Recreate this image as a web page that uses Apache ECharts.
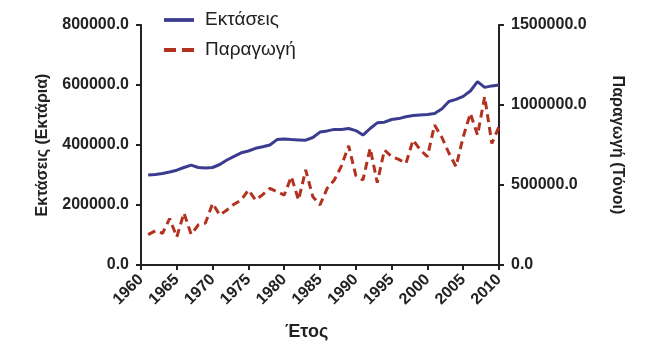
<!DOCTYPE html>
<html>
<head>
<meta charset="utf-8">
<script src="https://cdn.jsdelivr.net/npm/echarts@6/dist/echarts.min.js"></script>
<style>
  html, body { margin: 0; padding: 0; background: #fff; }
  #chart { width: 645px; height: 347px; }
</style>
</head>
<body>
<div id="chart"></div>
<script>
// Years 1961–2010
const years = [
  1961, 1962, 1963, 1964, 1965, 1966, 1967, 1968, 1969, 1970,
  1971, 1972, 1973, 1974, 1975, 1976, 1977, 1978, 1979, 1980,
  1981, 1982, 1983, 1984, 1985, 1986, 1987, 1988, 1989, 1990,
  1991, 1992, 1993, 1994, 1995, 1996, 1997, 1998, 1999, 2000,
  2001, 2002, 2003, 2004, 2005, 2006, 2007, 2008, 2009, 2010
];

// Cultivated area (hectares), left axis
const areaValues = [
  300000, 302000, 305000, 310000, 316000, 325000, 333000, 325000, 323000, 325000,
  335000, 350000, 362000, 374000, 380000, 389000, 394000, 400000, 418000, 420000,
  418000, 417000, 416000, 425000, 443000, 447000, 452000, 452000, 455000, 448000,
  433000, 455000, 474000, 476000, 485000, 488000, 494000, 498000, 500000, 502000,
  505000, 520000, 545000, 552000, 562000, 580000, 611000, 592000, 597000, 600000
];

// Production (tonnes), right axis
const productionValues = [
  190000, 214000, 198000, 290000, 175000, 325000, 192000, 250000, 262000, 385000,
  312000, 344000, 380000, 406000, 469000, 406000, 440000, 479000, 458000, 437000,
  552000, 406000, 594000, 427000, 375000, 479000, 531000, 620000, 745000, 560000,
  531000, 730000, 515000, 719000, 677000, 660000, 635000, 781000, 720000, 677000,
  875000, 800000, 700000, 615000, 800000, 948000, 812000, 1052000, 760000, 865000
];

const leftTicks = { min: 0, max: 800000, interval: 200000 };
const rightTicks = { min: 0, max: 1500000, interval: 500000 };
const xTicks = { min: 1960, max: 2010, interval: 5 };

const seriesNames = ['Εκτάσεις', 'Παραγωγή'];
const axisTitles = { left: 'Εκτάσεις (Εκτάρια)', right: 'Παραγωγή (Τόνοι)', bottom: 'Έτος' };

const FONT = '"Liberation Sans", Arial, sans-serif';
const INK = '#222';
const BLUE = '#3b3b8f';
const RED = '#b3321f';

const pairs = (vals) => years.map((y, i) => [y, vals[i]]);

const axisLine = { show: true, lineStyle: { color: INK, width: 2 } };
const axisTick = { show: true, length: 5, lineStyle: { color: INK, width: 2 } };
const tickFont = { fontFamily: FONT, fontWeight: 'bold', fontSize: 16, color: INK };

// Legend keys: a solid stroke and a dashed stroke
const solidKey = 'path://M0,0H32V4H0Z';
const dashedKey = 'path://M0,0H12V4H0Z M18,0H30V4H18Z';

const chart = echarts.init(document.getElementById('chart'), null, { renderer: 'canvas' });

chart.setOption({
  animation: false,
  backgroundColor: '#fff',
  grid: { left: 141, right: 146, top: 25, bottom: 82, containLabel: false },
  legend: {
    orient: 'vertical',
    left: 159,
    top: 4,
    itemGap: 8,
    itemWidth: 30,
    itemHeight: 4,
    data: [
      { name: seriesNames[0], icon: solidKey },
      { name: seriesNames[1], icon: dashedKey }
    ],
    textStyle: { fontFamily: FONT, fontSize: 19, color: INK, padding: [0, 0, 0, 6], lineHeight: 22 }
  },
  xAxis: {
    type: 'value',
    min: xTicks.min,
    max: xTicks.max,
    interval: xTicks.interval,
    axisLine: axisLine,
    axisTick: axisTick,
    splitLine: { show: false },
    axisLabel: Object.assign({ rotate: 45, margin: 12, formatter: (v) => String(v) }, tickFont)
  },
  yAxis: [
    {
      type: 'value',
      position: 'left',
      min: leftTicks.min,
      max: leftTicks.max,
      interval: leftTicks.interval,
      name: axisTitles.left,
      nameLocation: 'middle',
      nameGap: 90,
      nameTextStyle: { fontFamily: FONT, fontWeight: 'bold', fontSize: 16, color: INK },
      axisLine: axisLine,
      axisTick: axisTick,
      splitLine: { show: false },
      axisLabel: Object.assign({ margin: 12, formatter: (v) => v.toFixed(1) }, tickFont)
    },
    {
      type: 'value',
      position: 'right',
      min: rightTicks.min,
      max: rightTicks.max,
      interval: rightTicks.interval,
      name: axisTitles.right,
      nameLocation: 'middle',
      nameGap: 110,
      nameRotate: -90,
      nameTextStyle: { fontFamily: FONT, fontWeight: 'bold', fontSize: 16, color: INK },
      axisLine: axisLine,
      axisTick: axisTick,
      splitLine: { show: false },
      axisLabel: Object.assign({ margin: 12, formatter: (v) => v.toFixed(1) }, tickFont)
    }
  ],
  graphic: [
    {
      type: 'text',
      left: 285,
      top: 323,
      style: {
        text: axisTitles.bottom,
        font: 'bold 18px ' + FONT,
        fill: INK
      }
    }
  ],
  series: [
    {
      name: seriesNames[0],
      type: 'line',
      yAxisIndex: 0,
      data: pairs(areaValues),
      showSymbol: false,
      symbol: 'none',
      color: BLUE,
      lineStyle: { color: BLUE, width: 3 }
    },
    {
      name: seriesNames[1],
      type: 'line',
      yAxisIndex: 1,
      data: pairs(productionValues),
      showSymbol: false,
      symbol: 'none',
      color: RED,
      lineStyle: { color: RED, width: 3, type: [8, 5] }
    }
  ]
});
</script>
</body>
</html>
